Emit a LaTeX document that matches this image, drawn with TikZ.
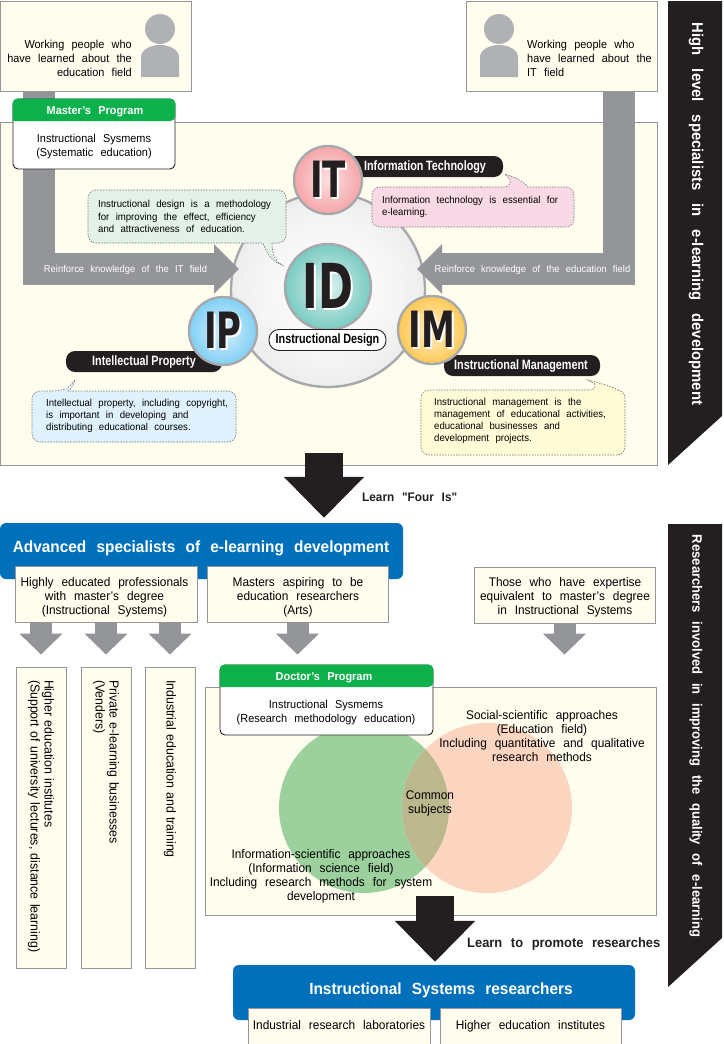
\documentclass[tikz,border=0pt]{standalone}
\usepackage{fontspec}
\usepackage{tikz}
\usetikzlibrary{arrows.meta}
\setmainfont[FakeStretch=.95,WordSpace=2.4]{Liberation Sans}
\newfontfamily\pillfont[FakeStretch=.8,WordSpace=.9]{Liberation Sans}
\newfontfamily\lettersfont[FakeStretch=.68]{DejaVu Sans}
\newfontfamily\learnfont[FakeStretch=.95,WordSpace=2.4,Ligatures=TeXOff]{Liberation Sans}
\definecolor{cream}{HTML}{FFFDEE}
\definecolor{edgegray}{HTML}{949698}
\definecolor{bandgray}{HTML}{939598}
\definecolor{nearblack}{HTML}{231F20}
\definecolor{barblue}{HTML}{0070BB}
\definecolor{cardgreen}{HTML}{0DB14B}
\definecolor{ringgray}{HTML}{A7A9AC}
\definecolor{notegreen}{HTML}{E3F1E8}
\definecolor{notepink}{HTML}{F9D9E6}
\definecolor{noteblue}{HTML}{DFF1FC}
\definecolor{noteyellow}{HTML}{FFFBD6}
\definecolor{setgreen}{HTML}{9CD19D}
\definecolor{setred}{HTML}{FCD5C0}
\definecolor{setboth}{HTML}{BCB88D}
\definecolor{ballteal}{HTML}{78CBC1}
\definecolor{ballpink}{HTML}{F5A5A8}
\definecolor{ballblue}{HTML}{80CFF4}
\definecolor{ballorange}{HTML}{FDC955}
\newcommand{\bigletters}[1]{\makebox[0pt][l]{\hspace{2pt}\raisebox{-2pt}{\color{white}#1}}#1}
\pgfdeclareradialshading{sphereball}{\pgfpoint{0bp}{0bp}}{color(0bp)=(white);color(18bp)=(white!96!black);color(50bp)=(ringgray!55!white)}
\tikzset{
  textsize/.style={font=\fontsize{12.5}{14}\selectfont},
  smalltext/.style={font=\fontsize{11.5}{14}\selectfont},
  notesize/.style={font=\fontsize{10.1}{12.2}\selectfont,align=left},
  creambox/.style={draw=edgegray,fill=cream,line width=.9pt,inner sep=0pt,textsize,align=center},
  boxtext/.style={textsize,align=center,inner sep=0pt},
  tallbox/.style={creambox,font=\fontsize{13}{14}\selectfont,rotate=-90,minimum width=301pt,minimum height=50pt,text width=275pt,align=left},
  note/.style={draw=black!55,dash pattern=on 1.5pt off 1.3pt,line width=.6pt,rounded corners=8pt},
  pill/.style={fill=nearblack,rounded corners=9pt},
  pilltext/.style={text=white,font=\fontsize{13.5}{14}\pillfont\bfseries,inner sep=0pt},
  ball/.style={circle,draw=ringgray,line width=2.4pt,inner sep=0pt,text=nearblack},
  smallball/.style={ball,minimum size=68pt,font=\fontsize{50}{50}\lettersfont\bfseries},
  arrowtext/.style={text=white,font=\fontsize{9.9}{12}\selectfont,inner sep=0pt},
  band/.style={draw=bandgray,line width=32pt,-{Triangle[length=25pt,width=48pt,sep=0pt]}},
  smallarrow/.style={draw=bandgray,line width=22pt,-{Triangle[length=21pt,width=42pt,sep=0pt]}},
  bigarrow/.style={draw=nearblack,line width=38pt,-{Triangle[length=41pt,width=78pt,sep=0pt]}},
  card/.style={draw=nearblack,fill=white,line width=.9pt,rounded corners=5pt,inner sep=0pt},
  cardhead/.style={text=white,font=\fontsize{11.5}{14}\bfseries,inner sep=0pt},
  bar/.style={fill=barblue,rounded corners=6pt,inner sep=0pt},
  bartext/.style={text=white,font=\fontsize{16.2}{18}\bfseries,inner sep=0pt},
  tab/.style={fill=nearblack},
  tabtext/.style={text=white,rotate=-90,font=\fontsize{13.7}{15}\bfseries,inner sep=0pt},
  learn/.style={text=nearblack,font=\fontsize{13.6}{15}\bfseries,inner sep=0pt,anchor=west},
  person/.pic={
    \fill[ringgray!90!white] (0,-17) circle [radius=15pt];
    \fill[ringgray!90!white] (-19,31) -- (-19,11) arc [start angle=180,end angle=0,x radius=19pt,y radius=12pt] -- (19,31) -- cycle;
  }
}
\begin{document}
\begin{tikzpicture}[x=1pt,y=-1pt]
 \useasboundingbox (0,0) rectangle (723,1044);
 % side tabs
 \fill[tab] (668,1) -- (722,1) -- (722,416) -- (668,465) -- cycle;
 \fill[tab] (668,524) -- (722,524) -- (722,938) -- (668,987) -- cycle;
 \node[tabtext,font=\fontsize{15.6}{16}\bfseries] (tabHigh) at (696,214) {\spaceskip=13pt High level specialists in e-learning development};
 \node[tabtext] (tabResearch) at (696,736) {Researchers involved in improving the quality of e-learning};

 % first half: master's course
 \node[creambox,minimum width=657pt,minimum height=343pt] (masterArea) at (328.5,293.5) {};
 \node[creambox,minimum width=191pt,minimum height=90pt] (eduPeople) at (95.5,46) {};
 \node[creambox,minimum width=191pt,minimum height=90pt] (itPeople) at (561.5,46) {};
 \pic at (160,46) {person};
 \pic at (499,46) {person};
 \node[smalltext,align=right,inner sep=0pt,anchor=east] (eduText) at (132,58) {Working people who\\have learned about the\\education field};
 \node[smalltext,align=left,inner sep=0pt,anchor=west] (itText) at (527,58) {Working people who\\have learned about the\\IT field};

 \node[ball,shading=sphereball,minimum size=194pt] (sphere) at (328,290) {};
 \coordinate (tipLeft) at (239,269);
 \coordinate (tipRight) at (417,269);
 \coordinate (bandLeft) at (38.5,0);
 \coordinate (bandRight) at (619,0);
 \draw[band] (eduPeople.south -| bandLeft) |- (tipLeft);
 \draw[band] (itPeople.south -| bandRight) |- (tipRight);
 \node[arrowtext] (fieldIT) at (125.5,270) {Reinforce knowledge of the IT field};
 \node[arrowtext] (fieldEdu) at (532.5,270) {Reinforce knowledge of the education field};

 % pills sit under the small balls
 \fill[pill] (340,156) rectangle (503,177);
 \fill[pill] (66,351) rectangle (222,372);
 \fill[pill] (444,355) rectangle (600,376);
 \node[pilltext] (itName) at (425,167) {Information Technology};
 \node[pilltext] (ipName) at (144,362) {Intellectual Property};
 \node[pilltext] (imName) at (521,366) {Instructional Management};

 \node[ball,minimum size=86pt,inner color=ballteal!25!white,outer color=ballteal,font=\fontsize{62}{62}\lettersfont\bfseries] (ballID) at (328,287) {\bigletters{ID}};
 \node[smallball,inner color=ballpink!35!white,outer color=ballpink] (ballIT) at (328,180) {\bigletters{IT}};
 \node[smallball,inner color=ballblue!30!white,outer color=ballblue] (ballIP) at (223,331) {\bigletters{IP}};
 \node[smallball,inner color=ballorange!30!white,outer color=ballorange] (ballIM) at (432,330) {\bigletters{IM}};
 \node[draw=nearblack,fill=white,line width=.9pt,rounded corners=10pt,minimum width=117pt,minimum height=21pt,inner sep=0pt,font=\fontsize{13.5}{14}\pillfont\bfseries] (idName) at (327.5,340) {Instructional Design};

 % notes beside the balls
 \draw[note,fill=notegreen] (187,190) -- (286,190) -- (286,243) [sharp corners] -- (272,243) .. controls (272,255) and (276,262) .. (282,265) .. controls (272,262) and (266,252) .. (263,243) [rounded corners=8pt] -- (88,243) -- (88,190) -- cycle;
 \node[notesize,inner sep=0pt,anchor=west] (idNote) at (98,216.5) {Instructional design is a methodology\\for improving the effect, efficiency\\and attractiveness of education.};
 \draw[note,fill=notepink] (473,187) -- (512,187) [sharp corners] .. controls (510,180) and (508,177) .. (505,174) .. controls (515,177) and (524,182) .. (528,187) [rounded corners=8pt] -- (574,187) -- (574,227) -- (372,227) -- (372,187) -- cycle;
 \node[notesize,inner sep=0pt,anchor=west] (itNote) at (382,207) {Information technology is essential for\\e-learning.};
 \draw[note,fill=noteblue] (134,391) -- (236,391) -- (236,442) -- (32,442) -- (32,391) -- (60,391) [sharp corners] .. controls (66,389) and (71,385) .. (75,380) .. controls (74,385) and (71,388) .. (68,391) [rounded corners=8pt] -- cycle;
 \node[notesize,inner sep=0pt,anchor=west] (ipNote) at (46,416) {Intellectual property, including copyright,\\is important in developing and\\distributing educational courses.};
 \draw[note,fill=noteyellow] (523,390) -- (598,390) [sharp corners] .. controls (596,386) and (592,382) .. (588,380) .. controls (600,383) and (610,386) .. (618,390) [rounded corners=8pt] -- (625,390) -- (625,455) -- (421,455) -- (421,390) -- cycle;
 \node[notesize,inner sep=0pt,anchor=west] (imNote) at (434,421) {Instructional management is the\\management of educational activities,\\educational businesses and\\development projects.};

 \node[card,minimum width=162pt,minimum height=70pt] (masterCard) at (94,134) {};
 \coordinate (masterHead) at (94,121);
 \fill[cardgreen,rounded corners=5pt] (masterCard.west |- masterHead) |- (masterCard.north east) -- (masterCard.east |- masterHead) [sharp corners] -- cycle;
 \node[cardhead] (masterTitle) at (95,112) {Master's Program};
 \node[smalltext,align=center,inner sep=0pt] (masterText) at (94,147) {Instructional Sysmems\\(Systematic education)};

 % from master's course down to the specialists
 \coordinate (learnFour) at (324,453);
 \node[bar,minimum width=403pt,minimum height=56pt] (advBar) at (201.5,551) {};
 \draw[bigarrow,shorten >=5pt] (learnFour) -- (learnFour |- advBar.north);
 \node[learn,font=\fontsize{12.4}{15}\learnfont\bfseries] (learnFourText) at (362,497) {Learn "Four Is"};
 \node[bartext] (advText) at (201,548) {Advanced specialists of e-learning development};

 \node[creambox,minimum width=182pt,minimum height=56pt] (proBox) at (106,594) {};
 \node[boxtext] (proText) at (104.5,597) {Highly educated professionals\\with master's degree\\(Instructional Systems)};
 \node[creambox,minimum width=181pt,minimum height=56pt] (artsBox) at (297.5,594) {};
 \node[boxtext] (artsText) at (298,597) {Masters aspiring to be\\education researchers\\(Arts)};
 \node[creambox,minimum width=181pt,minimum height=56pt] (equivBox) at (564.5,595) {};
 \node[boxtext] (equivText) at (565,597) {Those who have expertise\\equivalent to master's degree\\in Instructional Systems};

 \node[tallbox] (tallHigher) at (41,817.5) {Higher education institutes\\(Support of university lectures, distance learning)};
 \node[tallbox] (tallPrivate) at (106,817.5) {Private e-learning businesses\\(Venders)};
 \node[tallbox] (tallIndustry) at (170,817.5) {Industrial education and training};
 \draw[smallarrow,shorten >=12pt] (proBox.south -| tallHigher.west) -- (tallHigher.west);
 \draw[smallarrow,shorten >=12pt] (proBox.south -| tallPrivate.west) -- (tallPrivate.west);
 \draw[smallarrow,shorten >=12pt] (proBox.south -| tallIndustry.west) -- (tallIndustry.west);

 % second half: doctor's course
 \node[creambox,minimum width=451pt,minimum height=228pt] (doctorArea) at (430.5,801) {};
 \draw[smallarrow,shorten >=32pt] (equivBox.south) -- (equivBox.south |- doctorArea.north);
 \node[circle,fill=setgreen,minimum size=170pt,inner sep=0pt] (setInfo) at (364,808) {};
 \node[circle,fill=setred,minimum size=170pt,inner sep=0pt] (setSocial) at (487,808) {};
 \begin{scope}
  \clip (setInfo.center) circle [radius=85pt];
  \fill[setboth] (setSocial.center) circle [radius=85pt];
 \end{scope}
 \node[card,minimum width=213pt,minimum height=70pt] (doctorCard) at (326.5,700) {};
 \coordinate (doctorHead) at (326.5,687);
 \draw[smallarrow,shorten >=10pt] (artsBox.south) -- (artsBox.south |- doctorCard.north);
 \fill[cardgreen,rounded corners=5pt] (doctorCard.west |- doctorHead) |- (doctorCard.north east) -- (doctorCard.east |- doctorHead) [sharp corners] -- cycle;
 \node[cardhead] (doctorTitle) at (324,678) {Doctor's Program};
 \node[smalltext,align=center,inner sep=0pt] (doctorText) at (326,713) {Instructional Sysmems\\(Research methodology education)};
 \node[boxtext] (socialText) at (542,736) {Social-scientific approaches\\(Education field)\\Including quantitative and qualitative\\research methods};
 \node[boxtext] (infoText) at (321,876) {Information-scientific approaches\\(Information science field)\\Including research methods for system\\development};
 \node[boxtext] (commonText) at (430,803) {Common\\subjects};

 \node[bar,minimum width=402pt,minimum height=55pt] (isBar) at (434,992.5) {};
 \coordinate (learnPromote) at (435,896);
 \draw[bigarrow,shorten >=3pt] (learnPromote) -- (learnPromote |- isBar.north);
 \node[learn] (learnPromoteText) at (467,944) {Learn to promote researches};
 \node[bartext] (isText) at (441,990) {Instructional Systems researchers};
 \node[creambox,minimum width=182pt,minimum height=36pt,text height=9pt,text depth=3pt] (labBox) at (339,1026) {Industrial research laboratories};
 \node[creambox,minimum width=181pt,minimum height=36pt,text height=9pt,text depth=3pt] (uniBox) at (530.5,1026) {Higher education institutes};
\end{tikzpicture}
\end{document}
